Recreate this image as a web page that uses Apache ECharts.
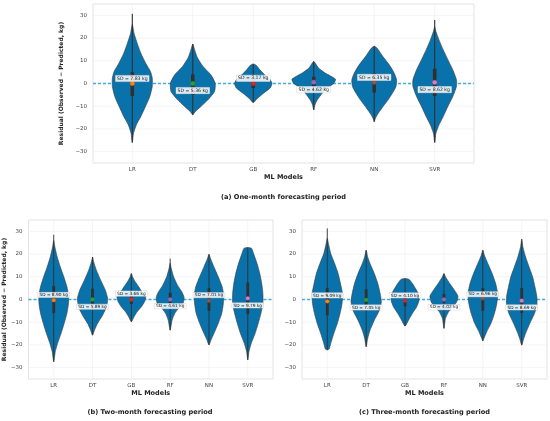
<!DOCTYPE html>
<html>
<head>
<meta charset="utf-8">
<script src="https://cdn.jsdelivr.net/npm/echarts@6/dist/echarts.min.js"></script>
<style>html,body{margin:0;padding:0;background:#fff}#c{width:550px;height:421px}</style>
</head>
<body>
<div id="c"></div>
<script>
// ---------- DATA ----------
const models = ['LR', 'DT', 'GB', 'RF', 'NN', 'SVR'];
const yTicks = [-30, -20, -10, 0, 10, 20, 30];
const captions = ['(a) One-month forecasting period', '(b) Two-month forecasting period', '(c) Three-month forecasting period'];
const yName = 'Residual (Observed \u2212 Predicted, kg)';
const dotColors = ['#ff7f0e', '#2ca02c', '#d62728', '#9467bd', '#8c564b', '#e377c2'];

// violin outlines: [residual value, half width (category units)] bottom -> top
const shapeA = [
  [[-26,0],[-21.9,.02],[-18,.07],[-14.6,.14],[-10,.22],[-5.7,.29],[-1.3,.33],[2.4,.33],[5.3,.30],[9,.22],[13.4,.14],[17.8,.08],[22,.03],[26,0]],
  [[-13.8,0],[-12.4,.04],[-10,.14],[-7.2,.25],[-3.5,.36],[0.1,.37],[3.8,.30],[7.5,.17],[11.2,.08],[14.9,.03],[17.4,0]],
  [[-8.4,0],[-6.5,.07],[-4.3,.17],[-2,.28],[0,.31],[1.6,.28],[3.8,.19],[6,.11],[8,.05],[8.6,0]],
  [[-11.6,0],[-9.4,.02],[-7.2,.06],[-4.3,.14],[-2,.22],[0,.33],[1.9,.36],[4.6,.19],[6.8,.08],[8.8,.03],[9.7,0]],
  [[-16.8,0],[-15.3,.02],[-13,.07],[-10,.15],[-7.2,.23],[-4.3,.30],[-1.3,.36],[1.6,.37],[4.6,.33],[8.2,.25],[12,.14],[15.5,.05],[16.4,0]],
  [[-26,0],[-22,.02],[-18.3,.07],[-14.6,.14],[-10,.22],[-5.7,.30],[-1.3,.36],[1.6,.36],[6,.30],[10.4,.22],[14.9,.14],[19.3,.07],[23,.02],[25,0]]
];
const shapeB = [
  [[-27.4,0],[-23,.04],[-19.3,.10],[-14.9,.19],[-10.5,.27],[-6.1,.34],[-1.8,.38],[1.9,.38],[5.6,.34],[10,.26],[14.3,.17],[18.7,.09],[23.1,.03],[26,0]],
  [[-15.7,0],[-13.5,.05],[-10.5,.13],[-6.9,.26],[-3.2,.36],[0.4,.39],[4.1,.33],[8.5,.21],[12.9,.10],[16.5,.03],[18.7,0]],
  [[-9.8,0],[-7.6,.07],[-5.4,.15],[-3.2,.26],[-1,.34],[1.2,.37],[3.4,.27],[5.6,.19],[7.8,.10],[10,.03],[11.4,0]],
  [[-13.5,0],[-9.1,.05],[-6.1,.12],[-4,.21],[-1.8,.33],[0.9,.36],[3.4,.30],[6.3,.19],[10,.09],[13.6,.03],[16,0]],
  [[-20,0],[-17.9,.05],[-14.9,.13],[-10.5,.24],[-6.1,.33],[-1.8,.37],[1.9,.38],[5.6,.34],[10,.24],[14.3,.13],[18,.04],[19.9,0]],
  [[-26.6,0],[-23,.03],[-19.3,.09],[-14.9,.19],[-10.5,.27],[-6.1,.34],[-1.8,.39],[2.6,.39],[7,.36],[11.4,.31],[15.8,.24],[20.2,.15],[22.5,.10],[22.9,0]]
];
const shapeC = [
  [[-22.2,0],[-21.8,.05],[-19.3,.09],[-14.9,.17],[-10.5,.26],[-6.1,.33],[-1.8,.38],[2.6,.39],[7,.34],[11.4,.28],[15.8,.19],[20.2,.09],[24.6,.03],[27,0]],
  [[-20.8,0],[-17.1,.04],[-13.5,.10],[-9.1,.21],[-4.7,.34],[-1,.39],[2.6,.36],[7,.30],[11.4,.21],[15.8,.10],[18.7,.04],[21.7,0]],
  [[-11.7,0],[-9.1,.09],[-6.1,.19],[-3.2,.30],[-0.3,.36],[2.6,.34],[4.8,.27],[7,.19],[8.9,.10],[9.2,0]],
  [[-12.7,0],[-8.3,.04],[-5.4,.12],[-3.2,.24],[-1,.33],[1.5,.36],[4.1,.27],[7,.15],[10,.04],[11.4,0]],
  [[-18.2,0],[-17.1,.03],[-14.2,.10],[-10.5,.21],[-6.1,.30],[-1.8,.36],[2.6,.38],[7,.33],[11.4,.24],[15.8,.13],[19.5,.04],[21.7,0]],
  [[-20.1,0],[-17.9,.04],[-14.9,.10],[-10.5,.21],[-6.1,.33],[-2.5,.39],[1.2,.39],[5.6,.34],[10,.28],[14.3,.19],[18.7,.10],[23.1,.03],[26.5,0]]
];

const minA = [-26, -13.8, -8.4, -11.6, -16.8, -26];
const maxA = [30.7, 17.4, 8.6, 9.7, 16.4, 28];
const q1A = [-5.5, -5, -2, -2, -4, -5.5];
const q3A = [5, 4, 2.5, 3, 4.5, 6.5];
const medA = [0, 0, 0, 0.6, 0.5, 0.5];
const sdA = [7.83, 5.36, 3.17, 4.62, 6.35, 8.62];
const sdYA = [2.2, -3.1, 2.3, -2.7, 2.7, -2.7];

const minB = [-27.4, -15.7, -9.8, -13.5, -20, -26.6];
const maxB = [28.5, 18.7, 11.4, 18, 19.9, 22.9];
const q1B = [-6, -3.5, -2, -2, -5, -6.5];
const q3B = [6, 4.8, 2.5, 3, 5, 7.5];
const medB = [-0.3, 0, 0, 0, -0.5, 0.5];
const sdB = [8.90, 5.89, 3.66, 4.61, 7.01, 9.79];
const sdYB = [2.0, -3.2, 2.6, -2.9, 1.9, -2.6];

const minC = [-22.2, -20.8, -11.7, -12.7, -18.2, -20.1];
const maxC = [31.3, 21.7, 9.2, 11.4, 21.7, 26.5];
const q1C = [-7, -4, -3, -1.5, -5, -6];
const q3C = [5, 4.5, 2, 2.5, 5, 5];
const medC = [-0.8, -0.2, -0.5, 0, 0.5, -0.5];
const sdC = [9.09, 7.05, 4.10, 4.02, 6.96, 8.69];
const sdYC = [1.8, -3.5, 1.8, -3.4, 2.3, -3.5];

// ---------- CHART ----------
const FONT = 'DejaVu Sans';
const panels = [
  {shape: shapeA, mn: minA, mx: maxA, q1: q1A, q3: q3A, med: medA, sd: sdA, sdY: sdYA,
   grid: {left: 93, top: 4, width: 381, height: 159}, boxW: 3.6, dotR: 2.2, lab: 4.6, cap: {x: 283.5, y: 194}},
  {shape: shapeB, mn: minB, mx: maxB, q1: q1B, q3: q3B, med: medB, sd: sdB, sdY: sdYB,
   grid: {left: 27, top: 220, width: 246, height: 159}, boxW: 2.8, dotR: 1.9, lab: 4.3, cap: {x: 150, y: 409}},
  {shape: shapeC, mn: minC, mx: maxC, q1: q1C, q3: q3C, med: medC, sd: sdC, sdY: sdYC,
   grid: {left: 302, top: 220, width: 245, height: 159}, boxW: 2.8, dotR: 1.9, lab: 4.3, cap: {x: 424.5, y: 409}}
];

const fmtY = v => (v < 0 ? '\u2212' + Math.abs(v) : String(v));

const grids = [], xAxes = [], yAxes = [], series = [], titles = [];
panels.forEach((p, k) => {
  grids.push(Object.assign({show: true, borderColor: '#dcdcdc', borderWidth: 0.8, backgroundColor: '#fff'}, p.grid));
  xAxes.push({
    gridIndex: k, type: 'value', min: -0.65, max: 5.65,
    axisLine: {show: false}, axisTick: {show: false}, splitLine: {show: false},
    axisLabel: {customValues: models.map((m, i) => i), formatter: v => models[Math.round(v)],
      fontSize: 5.5, color: '#444', margin: 4, fontFamily: FONT},
    name: 'ML Models', nameLocation: 'middle', nameGap: 11,
    nameTextStyle: {fontWeight: 'bold', fontSize: 6.5, color: '#222', fontFamily: FONT}
  });
  yAxes.push({
    gridIndex: k, type: 'value', min: -35, max: 35,
    axisLine: {show: false}, axisTick: {show: false}, splitLine: {show: false},
    axisLabel: {customValues: yTicks, formatter: fmtY, fontSize: 5.5, color: '#444', margin: 6, fontFamily: FONT},
    name: k < 2 ? yName : '', nameLocation: 'middle', nameGap: 16,
    nameTextStyle: {fontWeight: 'bold', fontSize: 6, color: '#222', fontFamily: FONT}
  });
  titles.push({text: captions[k], left: p.cap.x, top: p.cap.y, textAlign: 'center', padding: 0,
    textStyle: {fontSize: 6.6, fontWeight: 'bold', color: '#222', fontFamily: FONT}});

  // background grid + zero line
  series.push({
    type: 'custom', xAxisIndex: k, yAxisIndex: k, z: 1, silent: true, data: [[0]],
    renderItem: (params, api) => {
      const cs = params.coordSys;
      const ch = [];
      yTicks.forEach(t => {
        const y = api.coord([0, t])[1];
        ch.push({type: 'line', shape: {x1: cs.x, y1: y, x2: cs.x + cs.width, y2: y},
          style: {stroke: '#ececec', lineWidth: 0.6}});
      });
      models.forEach((m, i) => {
        const x = api.coord([i, 0])[0];
        ch.push({type: 'line', shape: {x1: x, y1: cs.y, x2: x, y2: cs.y + cs.height},
          style: {stroke: '#ececec', lineWidth: 0.6}});
      });
      const y0 = api.coord([0, 0])[1];
      ch.push({type: 'line', shape: {x1: cs.x, y1: y0, x2: cs.x + cs.width, y2: y0},
        style: {stroke: '#45aadb', lineWidth: k === 0 ? 1.6 : 1.3, lineDash: [3, 2]}});
      return {type: 'group', children: ch};
    }
  });

  // violins
  series.push({
    type: 'custom', xAxisIndex: k, yAxisIndex: k, z: 2, silent: true,
    data: models.map((m, i) => [i]),
    renderItem: (params, api) => {
      const i = api.value(0);
      const pts = p.shape[i];
      const right = pts.map(q => api.coord([i + q[1], q[0]]));
      const left = pts.slice().reverse().map(q => api.coord([i - q[1], q[0]]));
      const poly = right.concat(left.slice(1, left.length - 1));
      const cx = api.coord([i, 0])[0];
      const yMin = api.coord([i, p.mn[i]])[1], yMax = api.coord([i, p.mx[i]])[1];
      const yQ1 = api.coord([i, p.q1[i]])[1], yQ3 = api.coord([i, p.q3[i]])[1];
      const yMed = api.coord([i, p.med[i]])[1];
      const ySd = api.coord([i, p.sdY[i]])[1];
      return {type: 'group', children: [
        {type: 'polygon', shape: {points: poly, smooth: 0.2},
          style: {fill: '#0a72ab', stroke: '#3d3d3d', lineWidth: 0.6}},
        {type: 'line', shape: {x1: cx, y1: yMin, x2: cx, y2: yMax},
          style: {stroke: '#303030', lineWidth: k === 0 ? 1.1 : 0.9}},
        {type: 'line', shape: {x1: cx, y1: yQ1, x2: cx, y2: yQ3},
          style: {stroke: '#303030', lineWidth: p.boxW}},
        {type: 'circle', shape: {cx: cx, cy: yMed, r: p.dotR},
          style: {fill: dotColors[i], stroke: dotColors[i], lineWidth: 0.3}},
        {type: 'text', z2: 10, style: {
          text: 'SD = ' + p.sd[i].toFixed(2) + ' kg', x: cx, y: ySd,
          align: 'center', verticalAlign: 'middle',
          fontSize: p.lab, fontFamily: FONT, fill: '#222',
          backgroundColor: 'rgba(255,255,255,0.85)', borderColor: '#bdbdbd', borderWidth: 0.3,
          padding: [0.8, 1.5, 0.4, 1.5]}}
      ]};
    }
  });
});

const chart = echarts.init(document.getElementById('c'), null, {renderer: 'canvas'});
chart.setOption({
  animation: false,
  backgroundColor: '#fff',
  textStyle: {fontFamily: FONT},
  title: titles,
  grid: grids,
  xAxis: xAxes,
  yAxis: yAxes,
  series: series
});
</script>
</body>
</html>
